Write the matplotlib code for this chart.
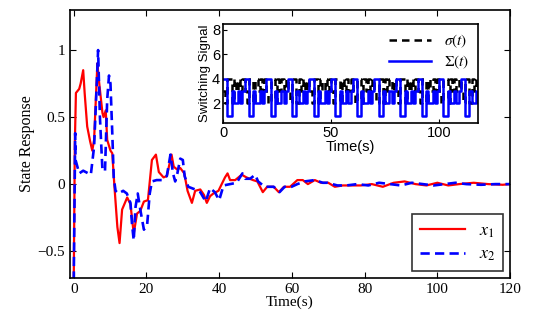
import numpy as np
import matplotlib
matplotlib.use('Agg')
import matplotlib.pyplot as plt

# state responses
t1 = [0, 0.3, 0.6, 1.5, 1.9, 2.6, 3.0, 3.7, 4.5, 5.1, 5.6, 6.5, 6.9, 7.9, 8.2, 8.8, 9.2,
      10.1, 10.6, 11.2, 12.0, 12.6, 13.3, 14.7, 15.6, 16.5, 17.4, 18.3, 19.3, 20.4,
      21.5, 22.6, 23.4, 24.7, 25.6, 26.9, 27.5, 28.4, 29.3, 30.4, 31.3, 32.5, 33.4,
      34.8, 35.8, 36.6, 37.5, 38.4, 39.8, 40.7, 41.6, 42.3, 43.0, 44.4, 46.2, 47.5,
      49.3, 50.5, 52.0, 53.2, 55.0, 56.4, 57.8, 59.5, 61.5, 63.0, 64.4, 66.3, 68.0,
      70.0, 71.8, 74.0, 76.5, 79.0, 82, 85, 88, 91, 94, 97, 100, 103, 106, 110, 114, 118, 120]
x1 = [-0.72, 0.3, 0.68, 0.71, 0.75, 0.85, 0.68, 0.43, 0.32, 0.25, 0.33, 0.9, 0.78, 0.53, 0.5,
      0.55, 0.33, 0.25, 0.23, -0.02, -0.32, -0.44, -0.19, -0.1, -0.15, -0.37, -0.22,
      -0.2, -0.13, -0.12, 0.18, 0.22, 0.09, 0.05, 0.06, 0.22, 0.13, 0.11, 0.12, 0.08,
      -0.05, -0.14, -0.05, -0.04, -0.08, -0.14, -0.09, -0.07, -0.05, 0.0, 0.05, 0.08,
      0.03, 0.03, 0.07, 0.05, 0.03, 0.02, -0.06, -0.02, -0.02, -0.06, -0.02, -0.02,
      0.03, 0.03, 0.0, 0.03, 0.01, 0.01, -0.02, -0.01, -0.01, -0.01, 0.0, -0.02, 0.01,
      0.02, 0.0, -0.01, 0.01, -0.01, 0.0, 0.01, 0.0, -0.005, 0.0]

t2 = [0, 0.4, 0.5, 1.5, 2.6, 4.7, 5.6, 6.3, 6.7, 7.2, 7.9, 8.6, 9.2, 9.7, 10.1, 10.6,
      11.0, 11.5, 12.3, 13.6, 14.6, 15.6, 16.0, 16.5, 17.0, 17.6, 18.3, 19.3, 20.2,
      20.9, 21.5, 22.8, 24.2, 25.6, 26.6, 27.3, 27.9, 28.5, 29.3, 30.0, 30.5, 31.5,
      33.4, 34.8, 36.3, 37.5, 38.8, 40.0, 41.2, 43.0, 44.8, 46.4, 47.2, 48.5, 49.9,
      50.7, 52.5, 55.0, 56.6, 58.0, 59.9, 61.5, 63.5, 66.3, 68.5, 69.8, 72.5, 75.0,
      78.0, 81, 84, 87, 90, 93, 96, 99, 102, 105, 108, 112, 116, 120]
x2 = [-0.72, 0.38, 0.18, 0.08, 0.1, 0.07, 0.28, 0.73, 1.0, 0.5, 0.1, 0.1, 0.63, 0.81,
      0.75, 0.38, 0.05, -0.05, -0.07, -0.05, -0.07, -0.14, -0.29, -0.42, -0.17, -0.07,
      -0.19, -0.34, -0.3, -0.07, 0.02, 0.03, 0.03, 0.06, 0.22, 0.08, 0.02, 0.08, 0.19,
      0.18, 0.06, -0.02, -0.04, -0.06, -0.13, -0.03, -0.06, -0.12, -0.01, 0.0, 0.01,
      0.08, 0.04, 0.04, 0.07, 0.02, -0.02, -0.02, -0.06, -0.02, -0.02, 0.0, 0.02, 0.03,
      0.01, 0.01, -0.01, -0.01, 0.0, -0.01, 0.01, 0.0, -0.01, 0.01, 0.0, -0.01, 0.0,
      0.01, 0.0, -0.005, 0.0, 0.0]

# switching signals, one value per second
sigma = [3, 2, 4, 4, 2, 4, 3, 4, 3, 4,
         3, 2, 4, 4, 2, 4, 3, 4, 3, 4,
         3, 2, 4, 4, 2, 4, 3, 4, 3, 4,
         3, 2, 4, 4, 2, 4, 3, 4, 3, 4,
         3, 2, 4, 4, 2, 4, 3, 4, 3, 4,
         3, 2, 4, 4, 2, 4, 3, 4, 3, 4,
         3, 2, 4, 4, 2, 4, 3, 4, 3, 4,
         3, 2, 4, 4, 2, 4, 3, 4, 3, 4,
         3, 2, 4, 4, 2, 4, 3, 4, 3, 4,
         3, 2, 4, 4, 2, 4, 3, 4, 3, 4,
         3, 2, 4, 4, 2, 4, 3, 4, 3, 4,
         3, 2, 4, 4, 2, 4, 3, 4, 3, 4]
Sigma = [4, 4, 1, 1, 3, 2, 2, 3, 2, 3,
         4, 4, 1, 1, 3, 2, 2, 3, 2, 3,
         4, 4, 1, 1, 3, 2, 2, 3, 2, 3,
         4, 4, 1, 1, 3, 2, 2, 3, 2, 3,
         4, 4, 1, 1, 3, 2, 2, 3, 2, 3,
         4, 4, 1, 1, 3, 2, 2, 3, 2, 3,
         4, 4, 1, 1, 3, 2, 2, 3, 2, 3,
         4, 4, 1, 1, 3, 2, 2, 3, 2, 3,
         4, 4, 1, 1, 3, 2, 2, 3, 2, 3,
         4, 4, 1, 1, 3, 2, 2, 3, 2, 3,
         4, 4, 1, 1, 3, 2, 2, 3, 2, 3,
         4, 4, 1, 1, 3, 2, 2, 3, 2, 3]


def main():
    plt.rcParams['mathtext.fontset'] = 'stix'
    plt.rcParams['axes.linewidth'] = 1.2
    serif = 'Liberation Serif'
    sans = 'Liberation Sans'

    fig = plt.figure(figsize=(5.52, 3.18), dpi=100)
    ax = fig.add_axes([0.127, 0.126, 0.797, 0.843])
    ax.plot(t1, x1, color='red', lw=1.6, label=r'$x_1$')
    ax.plot(t2, x2, color='blue', lw=1.9, ls=(0, (3.5, 2)), label=r'$x_2$')
    ax.set_xlim(-1, 120)
    ax.set_ylim(-0.7, 1.3)
    ax.set_xticks(np.arange(0, 121, 20))
    ax.set_yticks([-0.5, 0, 0.5, 1])
    ax.set_yticklabels(['\u22120.5', '0', '0.5', '1'])
    ax.tick_params(direction='in', top=True, right=True, labelsize=11, length=4)
    for lab in ax.get_xticklabels() + ax.get_yticklabels():
        lab.set_family(serif)
    ax.set_xlabel('Time(s)', family=serif, fontsize=11, labelpad=0)
    ax.set_ylabel('State Response', family=serif, fontsize=11.5, labelpad=2)
    leg = ax.legend(loc='lower right', fontsize=13, fancybox=False, edgecolor='black',
                    handlelength=2.5, borderaxespad=0.4, labelspacing=0.3)
    leg.get_frame().set_linewidth(1.2)

    # inset with switching signals
    t = np.arange(len(Sigma) + 1)
    ins = fig.add_axes([0.404, 0.613, 0.462, 0.312])
    ins.step(t, sigma + [sigma[-1]], where='post', color='black', lw=1.8,
             ls=(0, (3, 2)), label=r'$\sigma(t)$')
    ins.step(t, Sigma + [Sigma[-1]], where='post', color='blue', lw=1.8,
             label=r'$\Sigma(t)$')
    ins.set_xlim(0, 118)
    ins.set_ylim(0.4, 8.5)
    ins.set_xticks([0, 50, 100])
    ins.set_yticks([2, 4, 6, 8])
    ins.tick_params(direction='in', labelsize=10.5, length=3, pad=2)
    for lab in ins.get_xticklabels() + ins.get_yticklabels():
        lab.set_family(sans)
    ins.set_xlabel('Time(s)', family=sans, fontsize=10.5, labelpad=0)
    ins.set_ylabel('Switching Signal', family=sans, fontsize=9.5, labelpad=1)
    ins.legend(loc='upper right', fontsize=11, frameon=False, handlelength=2.8,
               borderaxespad=0.2, labelspacing=0.2)

    fig.savefig('out.png', dpi=100)


if __name__ == '__main__':
    main()
